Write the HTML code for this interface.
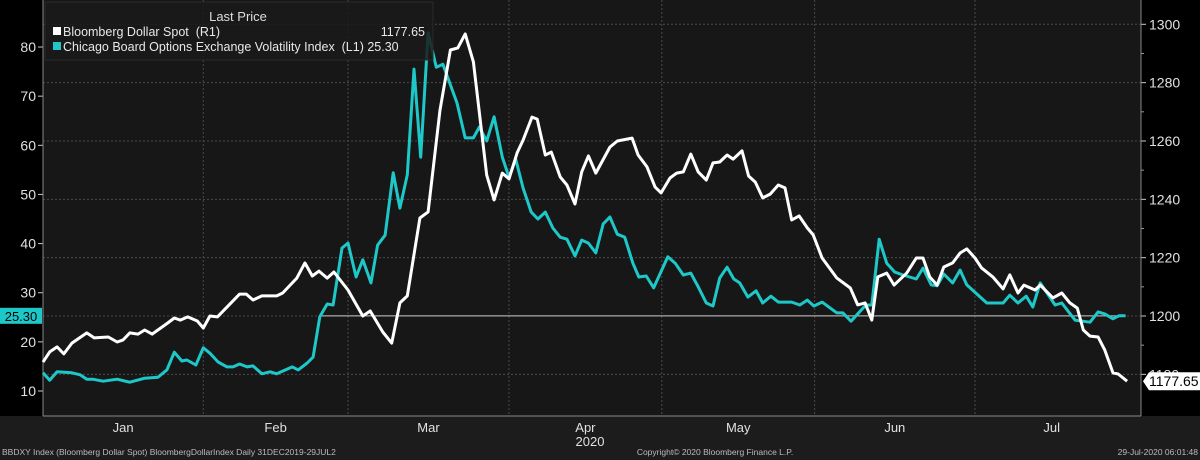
<!DOCTYPE html>
<html><head><meta charset="utf-8"><style>
html,body{margin:0;padding:0;background:#000;}
svg{display:block;font-family:"Liberation Sans",sans-serif;}
</style></head><body>
<svg id="chart" width="1200" height="460" viewBox="0 0 1200 460">
<rect x="0" y="0" width="1200" height="460" fill="#000"/>
<rect x="0" y="416" width="1200" height="44" fill="#1c1c1c"/>
<rect x="43" y="0" width="1098" height="416" fill="#171717"/>
<g id="grid"></g>
<g id="axes"></g>
<g id="series"></g>
<g>
<rect x="45" y="2" width="388" height="58" fill="#1a1a1a" fill-opacity="0.85" stroke="#2a2a2a"/>
<text x="238" y="21" fill="#ddd" font-size="13" text-anchor="middle">Last Price</text>
<rect x="53" y="27" width="8" height="8" fill="#fff"/>
<text x="63" y="36" fill="#e8e8e8" font-size="12.5" xml:space="preserve">Bloomberg Dollar Spot  (R1)</text>
<text x="425" y="36" fill="#e8e8e8" font-size="12.5" text-anchor="end">1177.65</text>
<rect x="53" y="42" width="8" height="8" fill="#20c8c8"/>
<text x="63" y="51" fill="#e8e8e8" font-size="12.5" xml:space="preserve">Chicago Board Options Exchange Volatility Index  (L1) 25.30</text>
</g>
<text x="2" y="455" fill="#bbb" font-size="8.5">BBDXY Index (Bloomberg Dollar Spot) BloombergDollarIndex  Daily 31DEC2019-29JUL2</text>
<text x="715" y="455" fill="#bbb" font-size="8.5" text-anchor="middle">Copyright© 2020 Bloomberg Finance L.P.</text>
<text x="1198" y="455" fill="#bbb" font-size="8.5" text-anchor="end">29-Jul-2020 06:01:48</text>
</svg>
<script>
const monthLabels=["Jan","Feb","Mar","Apr","May","Jun","Jul"];
const monthStartDays=[0,21.6,41.1,62.8,83.4,104.0,125.6,146.3];
const leftTicks=[10,20,30,40,50,60,70,80];
const rightTicks=[1180,1200,1220,1240,1260,1280,1300];
const dollarDays=[0,0.9,1.9,2.8,3.9,5.9,6.9,8.8,10.0,10.8,11.7,12.8,13.7,14.7,16.8,17.7,18.5,19.5,20.8,21.6,22.5,23.5,26.5,27.4,28.3,29.5,31.5,32.3,34.2,35.3,36.3,37.2,38.3,39.2,41.1,43.1,44.1,45.8,47.0,48.1,49.1,50.8,51.9,53.5,54.9,55.9,56.9,58.0,59.8,60.8,61.9,62.8,63.9,64.7,65.9,66.6,67.7,68.5,69.7,70.6,71.7,72.6,73.5,74.5,76.4,77.4,79.4,80.2,81.4,82.5,83.3,84.5,85.4,86.3,87.3,88.3,89.4,90.3,91.2,92.2,93.0,94.2,95.1,96.0,97.0,98.0,99.1,100.0,100.9,101.9,103.0,103.8,105.0,107.0,108.8,109.8,110.8,111.7,112.5,113.7,114.7,116.4,117.7,118.6,119.5,120.5,121.4,122.6,123.6,124.5,125.6,126.5,128.0,129.4,130.3,131.4,132.2,133.7,134.4,136.1,137.3,138.4,139.4,140.2,141.1,142.2,143.1,144.2,144.9,146.1];
const dollarValues=[1184.2,1187.7,1189.4,1187.0,1190.7,1194.2,1192.5,1192.8,1191.1,1191.8,1194.2,1193.8,1195.2,1193.8,1197.6,1199.3,1198.6,1199.7,1198.3,1195.9,1200.0,1199.7,1207.5,1207.5,1205.5,1206.9,1206.9,1207.9,1213.0,1218.2,1213.7,1215.4,1213.0,1215.1,1208.9,1200.0,1201.7,1194.5,1190.7,1204.5,1206.9,1233.6,1235.7,1270.6,1291.2,1291.9,1296.7,1287.1,1248.3,1239.8,1249.0,1247.0,1255.9,1260.3,1268.2,1267.5,1255.2,1256.2,1247.7,1244.9,1238.4,1249.4,1254.9,1249.0,1257.9,1260.0,1261.0,1255.2,1251.1,1244.2,1242.2,1247.3,1249.0,1249.4,1255.5,1249.4,1246.6,1252.5,1252.8,1255.2,1253.8,1256.6,1248.0,1245.9,1240.5,1241.8,1244.9,1243.9,1232.9,1234.3,1230.2,1227.8,1219.9,1213.0,1209.6,1203.8,1204.5,1198.6,1213.4,1214.7,1210.6,1214.7,1219.9,1219.9,1213.4,1210.6,1216.8,1218.2,1221.6,1223.0,1219.9,1216.5,1213.4,1209.3,1214.1,1207.9,1210.6,1208.9,1210.6,1206.2,1207.9,1204.5,1202.7,1195.2,1193.1,1192.8,1188.3,1180.5,1180.1,1177.65];
const vixDays=[0,0.9,1.9,3.9,5.0,5.9,6.7,8.1,10.0,11.7,13.7,15.5,16.7,17.7,18.7,19.4,20.6,21.6,22.5,23.6,24.8,25.6,26.5,27.5,28.3,29.5,30.6,31.5,33.6,34.4,35.6,36.4,37.3,38.3,39.1,40.3,41.1,42.2,43.1,44.2,45.1,46.1,47.2,48.1,49.1,50.0,50.9,51.9,53.0,53.9,55.8,56.9,58.0,58.8,59.8,60.8,61.9,62.8,63.7,64.7,65.8,66.7,67.7,68.7,69.7,70.6,71.7,72.6,73.5,74.5,75.5,76.4,77.4,78.4,79.5,80.3,81.3,82.3,84.2,85.2,86.3,87.3,88.3,89.4,90.3,91.2,92.2,93.1,93.9,95.0,96.1,97.0,98.1,99.1,100.9,102.0,103.0,103.9,105.0,107.0,107.8,108.9,110.9,111.7,112.7,113.7,114.8,115.9,117.7,118.6,119.7,120.5,121.4,122.6,123.6,124.5,127.2,129.4,130.3,131.4,132.5,133.4,134.4,136.4,137.3,139.1,141.1,142.2,143.1,144.2,145.0,145.9];
const vixValues=[13.7,12.2,13.9,13.7,13.3,12.4,12.4,12.0,12.4,11.8,12.6,12.8,14.3,17.9,16.1,16.3,15.3,18.8,17.7,15.9,14.9,14.9,15.5,14.9,15.1,13.5,13.9,13.5,14.9,14.3,15.7,16.9,25.1,27.7,27.5,39.1,40.1,33.2,36.7,32.0,39.7,41.7,54.4,47.2,54.0,75.5,57.6,82.9,75.9,76.5,68.6,61.5,61.5,63.7,60.9,65.8,57.6,53.5,57.2,51.3,46.4,45.0,46.4,43.2,41.3,40.9,37.5,40.7,40.1,38.1,44.0,45.4,41.9,41.3,36.0,33.2,33.4,31.0,37.3,36.0,33.6,34.0,31.2,27.9,27.3,33.0,35.2,32.8,32.0,29.1,30.4,27.9,29.3,28.1,28.1,27.5,28.5,27.3,28.1,25.9,25.9,24.2,27.5,27.5,40.9,36.0,34.2,33.6,32.8,35.0,31.6,31.4,33.8,32.0,34.6,31.6,27.9,27.9,29.5,27.9,29.3,27.1,32.0,27.5,27.9,24.4,24.0,26.1,25.7,24.7,25.3,25.3];

const NS="http://www.w3.org/2000/svg";
const X0=43,DX=7.42;
function xs(d){return X0+d*DX;}
function yL(v){return 391-(v-10)*4.914;}
function yR(v){return 316-(v-1200)*2.917;}
function mk(tag,attrs,parent){const e=document.createElementNS(NS,tag);for(const k in attrs)e.setAttribute(k,attrs[k]);parent.appendChild(e);return e;}
const grid=document.getElementById('grid'),axes=document.getElementById('axes'),series=document.getElementById('series');

rightTicks.forEach(t=>{
  const y=yR(t);
  const g=mk('line',{x1:43,x2:1141,y1:y,y2:y,stroke:'#4a4a4a','stroke-dasharray':'2,2','stroke-width':1},grid);
  
  
  const tk=mk('line',{x1:1141,x2:1146,y1:y,y2:y,stroke:'#ccc'},axes);
  
  
  const tx=mk('text',{x:1149,y:y+5,fill:'#e0e0e0','font-size':14},axes);
  tx.textContent=t;
  
  
});
for(let t=1190;t<1300;t+=20){const y=yR(t);const m=mk('line',{x1:1141,x2:1144,y1:y,y2:y,stroke:'#999'},axes);
  
  }
leftTicks.forEach(t=>{
  const y=yL(t);
  const tk=mk('line',{x1:38,x2:43,y1:y,y2:y,stroke:'#ccc'},axes);
  
  
  const tx=mk('text',{x:36,y:y+5,fill:'#e0e0e0','font-size':14,'text-anchor':'end'},axes);
  tx.textContent=t;
  
  
});
mk('line',{x1:1141,x2:1141,y1:0,y2:416,stroke:'#888'},axes);
mk('line',{x1:43,x2:43,y1:0,y2:416,stroke:'#888'},axes);
mk('line',{x1:43,x2:1141,y1:416,y2:416,stroke:'#888'},axes);
monthStartDays.forEach((d,i)=>{
  const x=xs(d);
  if(i>0&&i<monthStartDays.length-1){const g=mk('line',{x1:x,x2:x,y1:0,y2:416,stroke:'#4a4a4a','stroke-dasharray':'2,2'},grid);
    
    }
  if(i<monthLabels.length){
    const tx=mk('text',{x:(xs(d)+xs(monthStartDays[i+1]))/2,y:432,fill:'#e0e0e0','font-size':13,'text-anchor':'middle'},axes);
    tx.textContent=monthLabels[i];
    
    
  }
});
const yr=mk('text',{x:590,y:446,fill:'#e0e0e0','font-size':13,'text-anchor':'middle'},axes);yr.textContent='2020';



const lastV=vixValues[vixValues.length-1];
const ll=mk('line',{x1:320,x2:xs(vixDays[vixDays.length-1]),y1:yL(lastV),y2:yL(lastV),stroke:'#ccc','stroke-width':1},series);



function path(days,vals,f){return days.map((d,i)=>(i?'L':'M')+xs(d).toFixed(1)+','+f(vals[i]).toFixed(1)).join(' ');}
const pv=mk('path',{d:path(vixDays,vixValues,yL),fill:'none',stroke:'#1ec8c8','stroke-width':3,'stroke-linejoin':'round'},series);


const pd=mk('path',{d:path(dollarDays,dollarValues,yR),fill:'none',stroke:'#ffffff','stroke-width':3,'stroke-linejoin':'round'},series);



const yv=yL(lastV);
const lb=mk('rect',{x:0,y:yv-8,width:42,height:16,fill:'#1ec8c8'},axes);


const lt=mk('text',{x:21,y:yv+5,fill:'#000','font-size':13,'text-anchor':'middle'},axes);lt.textContent=lastV.toFixed(2);


const lastD=dollarValues[dollarValues.length-1];const yd=yR(lastD);
const rb=mk('path',{d:`M1143,${yd} L1149,${yd-9} L1200,${yd-9} L1200,${yd+9} L1149,${yd+9} Z`,fill:'#fff'},axes);


const rt=mk('text',{x:1149,y:yd+5,fill:'#000','font-size':14},axes);rt.textContent=lastD.toFixed(2);


</script>
</body></html>
